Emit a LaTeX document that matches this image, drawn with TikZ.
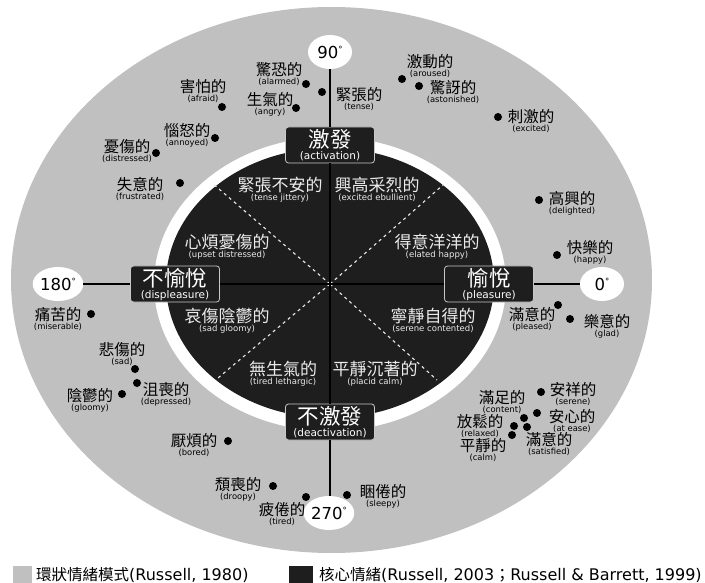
\documentclass[tikz,border=0pt]{standalone}
\usepackage{fontspec}
\setmainfont{DejaVu Sans}
\newfontfamily\cjk{Noto Sans CJK TC}
\usetikzlibrary{shapes.geometric}
\definecolor{ringgray}{HTML}{C0C0C0}
\definecolor{coreblack}{HTML}{1E1E1E}
\definecolor{boxline}{HTML}{C8C8C8}
\definecolor{softwhite}{HTML}{EBEBEB}
\newcommand{\degmark}{\raisebox{6pt}{\fontsize{8.5}{8.5}\selectfont °}}
\newcommand{\emolabel}[7]{%
  \node[zh] (#1z) at (#2,#3) {#6};
  \node[en] (#1e) at (#2,#3+12) {#7};
  \node[dot] (#1d) at (#4,#5) {};}
\newcommand{\seclabel}[5]{%
  \node[seczh] (#1z) at (#2,#3) {#4};
  \node[secen] (#1e) at (#2,#3+13) {#5};}
\begin{document}
\begin{tikzpicture}[x=1pt,y=-1pt,
  dot/.style={circle,fill=black,inner sep=0,minimum size=8pt},
  zh/.style={font=\cjk\fontsize{15.5}{16}\selectfont,inner sep=0},
  en/.style={font=\fontsize{8.4}{9}\selectfont,inner sep=0},
  seczh/.style={font=\cjk\fontsize{17}{18}\selectfont,inner sep=0,text=softwhite},
  secen/.style={font=\fontsize{8.5}{9}\selectfont,inner sep=0,text=softwhite},
  axisbox/.style={draw=boxline,fill=coreblack,line width=0.8pt,rounded corners=3pt,minimum width=89pt,minimum height=36pt,inner sep=0},
  boxzh/.style={font=\cjk\fontsize{21.5}{22}\selectfont,inner sep=0,text=white},
  boxen/.style={font=\fontsize{10.5}{11}\selectfont,inner sep=0,text=white},
  degnode/.style={ellipse,fill=white,inner sep=0,minimum width=44pt,minimum height=34pt,font=\fontsize{16.5}{17}\selectfont},
  axisline/.style={line width=1.5pt,black},
  divline/.style={softwhite,line width=1.1pt,dash pattern=on 3pt off 3.5pt},
  legbox/.style={inner sep=0,minimum width=19pt,minimum height=17pt},
  legtext/.style={anchor=west,inner sep=0,font=\fontsize{16}{17}\selectfont}
]
\useasboundingbox[fill=white] (0,0) rectangle (705,583);
% rings
\fill[ringgray] (331.5,280) ellipse [x radius=320.5pt, y radius=273pt];
\fill[white] (330,284) ellipse [x radius=176pt, y radius=147pt];
\fill[coreblack] (330,283) ellipse [x radius=164pt, y radius=135pt];
% dividers
\coordinate (ctr) at (330,284);
\coordinate (ul) at (212,183);
\coordinate (ur) at (443,185);
\coordinate (ll) at (218,378);
\coordinate (lr) at (437,380);
\draw[divline] (ctr) -- (ul);
\draw[divline] (ctr) -- (ur);
\draw[divline] (ctr) -- (ll);
\draw[divline] (ctr) -- (lr);
% axis boxes
\node[axisbox] (act) at (330,145) {};
\node[axisbox] (deact) at (330,422) {};
\node[axisbox] (displ) at (175,284) {};
\node[axisbox] (pleas) at (489,284) {};
\node[boxzh] (actz) at (330,139) {激發};
\node[boxen] (acte) at (330,156) {(activation)};
\node[boxzh] (deactz) at (330,416) {不激發};
\node[boxen] (deacte) at (330,433) {(deactivation)};
\node[boxzh] (displz) at (175,278) {不愉悅};
\node[boxen] (raw1) at (175,296) {(displeasure)};
\node[boxzh] (pleasz) at (489,278) {愉悅};
\node[boxen] (please) at (489,296) {(pleasure)};
% degree circles
\node[degnode] (n90) at (330,52) {90\degmark};
\node[degnode] (n270) at (329,513) {270\degmark};
\node[degnode] (n180) at (58,284) {180\degmark};
\node[degnode] (n0) at (602,284) {0\degmark};
% axes
\draw[axisline] (n90) -- (act);
\draw[axisline] (act) -- (deact);
\draw[axisline] (deact.south) -- (deact.south |- n270.north);
\draw[axisline] (n180) -- (displ);
\draw[axisline] (displ) -- (pleas);
\draw[axisline] (pleas) -- (n0);
% core affect sectors
\seclabel{s1}{280}{185}{緊張不安的}{(tense jittery)}
\seclabel{s2}{377}{185}{興高采烈的}{(excited ebullient)}
\seclabel{s3}{227}{242}{心煩憂傷的}{(upset distressed)}
\seclabel{s4}{437}{242}{得意洋洋的}{(elated happy)}
\seclabel{s5}{227}{316}{哀傷陰鬱的}{(sad gloomy)}
\seclabel{s6}{433}{316}{寧靜自得的}{(serene contented)}
\seclabel{s7}{283}{369}{無生氣的}{(tired lethargic)}
\seclabel{s8}{375}{369}{平靜沉著的}{(placid calm)}
% circumplex emotions
\emolabel{alarmed}{279}{70}{306}{84}{驚恐的}{(alarmed)}
\emolabel{tense}{359}{95}{322}{92}{緊張的}{(tense)}
\emolabel{afraid}{203}{87}{222}{107}{害怕的}{(afraid)}
\emolabel{angry}{270}{100}{296}{108}{生氣的}{(angry)}
\emolabel{annoyed}{187}{131}{215}{138}{惱怒的}{(annoyed)}
\emolabel{distressed}{127}{147}{156}{153}{憂傷的}{(distressed)}
\emolabel{frustrated}{140}{185}{180}{183}{失意的}{(frustrated)}
\emolabel{aroused}{430}{62}{402}{79}{激動的}{(aroused)}
\emolabel{astonished}{453}{88}{419}{86}{驚訝的}{(astonished)}
\emolabel{excited}{531}{117}{498}{117}{刺激的}{(excited)}
\emolabel{delighted}{572}{199}{539}{200}{高興的}{(delighted)}
\emolabel{happy}{590}{248}{557}{255}{快樂的}{(happy)}
\emolabel{pleased}{532}{315}{558}{305}{滿意的}{(pleased)}
\emolabel{glad}{607}{322}{570}{319}{樂意的}{(glad)}
\emolabel{miserable}{58}{315}{91}{314}{痛苦的}{(miserable)}
\emolabel{sad}{122}{350}{135}{369}{悲傷的}{(sad)}
\emolabel{depressed}{166}{390}{137}{383}{沮喪的}{(depressed)}
\emolabel{gloomy}{90}{396}{122}{394}{陰鬱的}{(gloomy)}
\emolabel{bored}{194}{441}{228}{441}{厭煩的}{(bored)}
\emolabel{droopy}{238}{485}{273}{486}{頹喪的}{(droopy)}
\emolabel{tired}{282}{510}{306}{497}{疲倦的}{(tired)}
\emolabel{sleepy}{383}{492}{347}{495}{睏倦的}{(sleepy)}
\emolabel{serene}{573}{390}{541}{392}{安祥的}{(serene)}
\emolabel{content}{502}{398}{524}{418}{滿足的}{(content)}
\emolabel{atease}{572}{417}{537}{413}{安心的}{(at ease)}
\emolabel{relaxed}{480}{422}{514}{426}{放鬆的}{(relaxed)}
\emolabel{calm}{483}{446}{512}{435}{平靜的}{(calm)}
\emolabel{satisfied}{549}{440}{527}{427}{滿意的}{(satisfied)}
% legend
\node[legbox,fill=ringgray] (leg1) at (22.5,574.5) {};
\node[legtext] (leg1t) at (36,575) {{\cjk\fontsize{15.5}{15.5}\selectfont 環狀情緒模式}(Russell, 1980)};
\node[legbox,fill=coreblack,minimum width=24pt] (leg2) at (301,574.5) {};
\node[legtext] (leg2t) at (319,575) {{\cjk\fontsize{15.5}{15.5}\selectfont 核心情緒}(Russell, 2003{\cjk ；}Russell \& Barrett, 1999)};
\end{tikzpicture}
\end{document}
